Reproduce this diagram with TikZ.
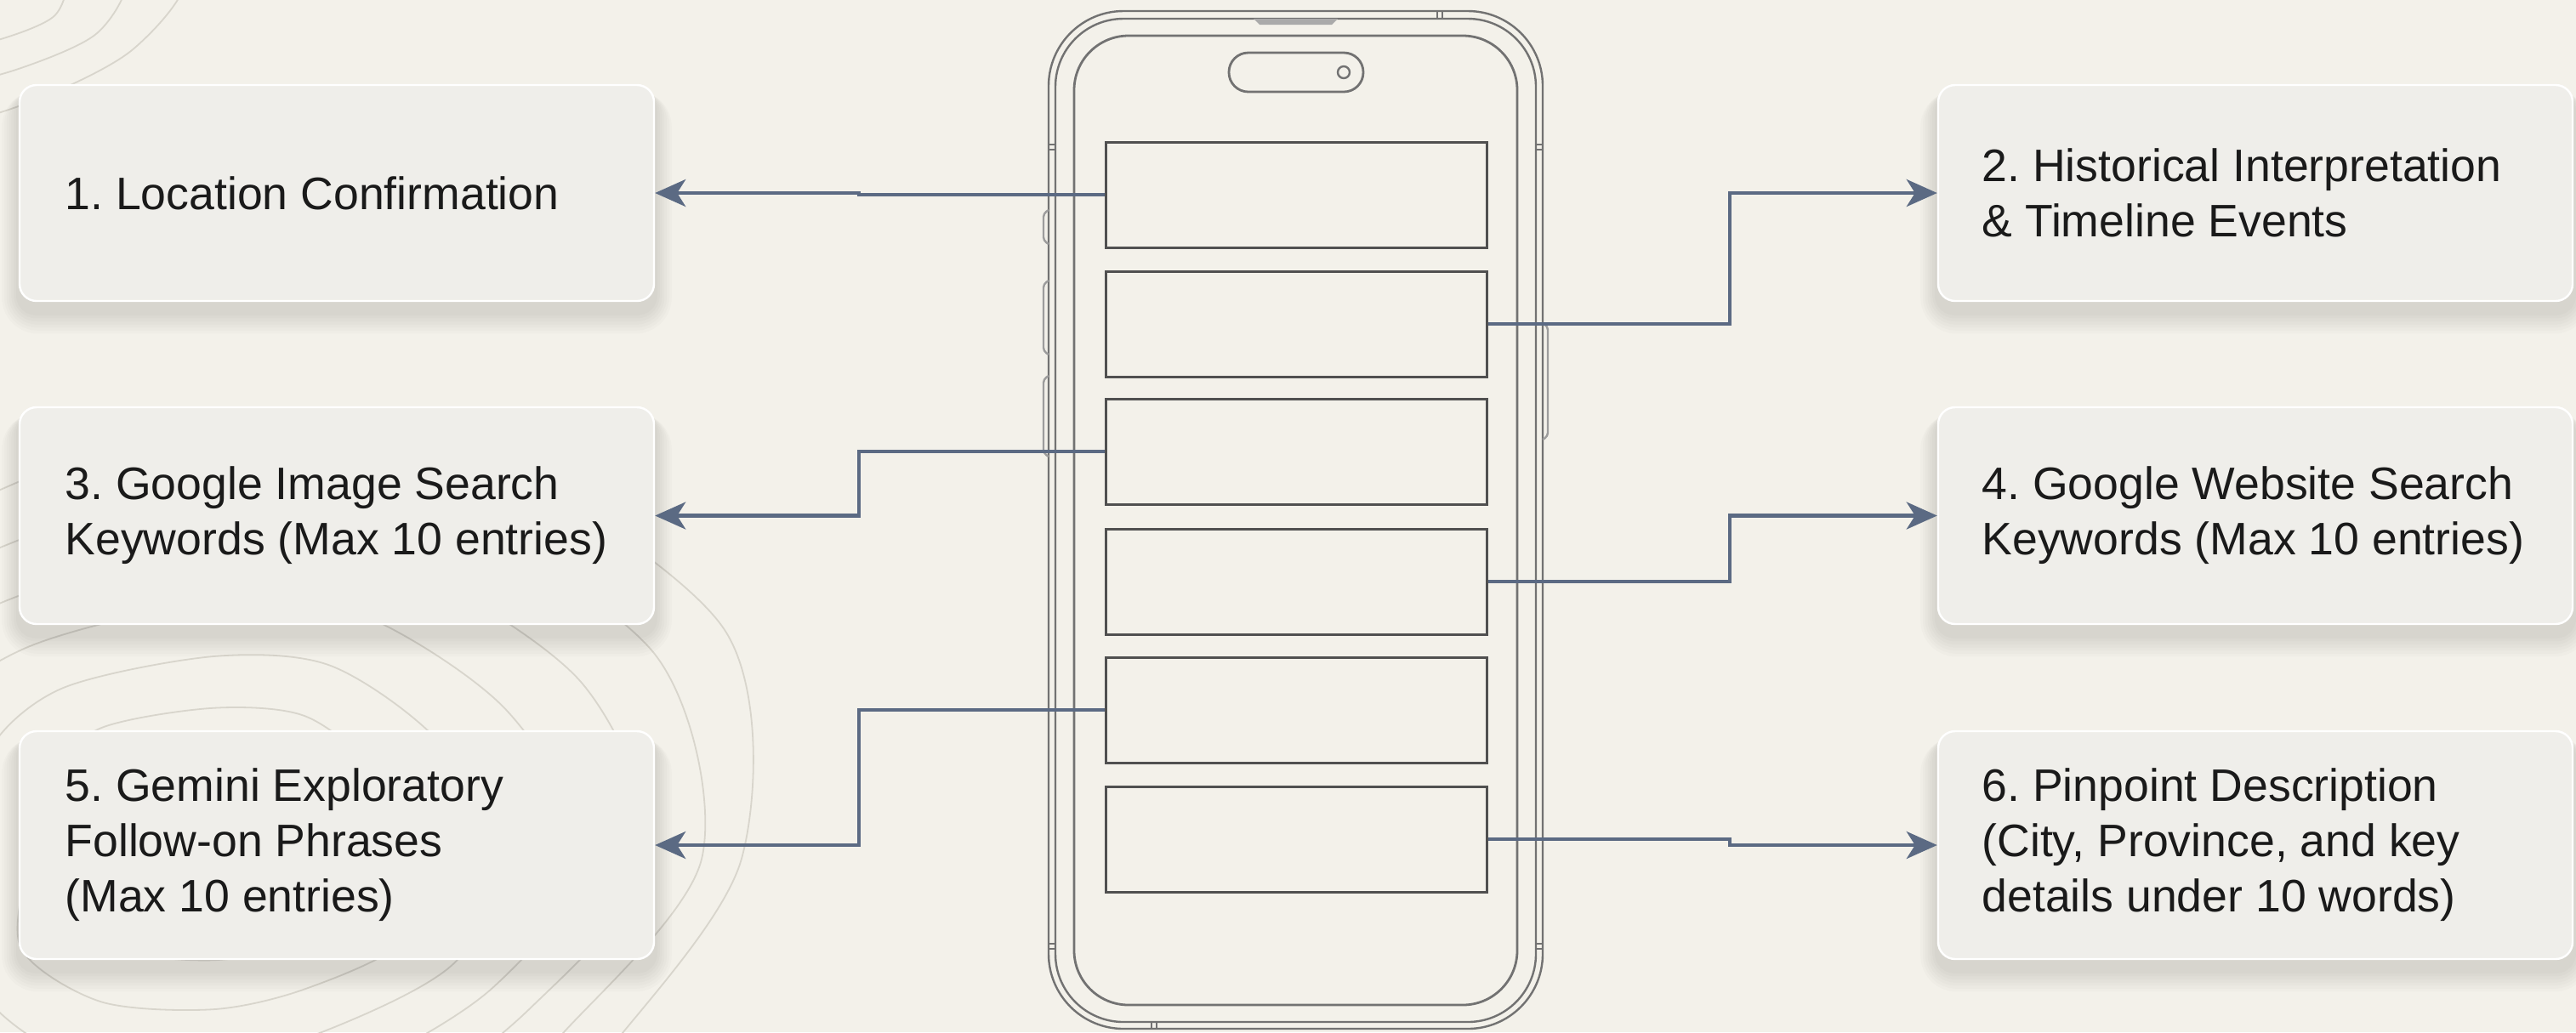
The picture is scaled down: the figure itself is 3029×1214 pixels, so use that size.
\documentclass[tikz,border=0pt]{standalone}
\usepackage{fontspec}
\setmainfont{Liberation Sans}
\usetikzlibrary{arrows.meta}
\definecolor{bg}{HTML}{F3F1EA}
\definecolor{boxfill}{HTML}{EFEEEA}
\definecolor{connc}{HTML}{5B6A83}
\definecolor{phonec}{HTML}{727272}
\definecolor{scrc}{HTML}{505050}
\definecolor{topoc}{HTML}{D8D5CC}
\definecolor{textc}{HTML}{1A1A1A}
\pgfdeclarelayer{back}
\pgfsetlayers{back,main}
\frenchspacing
\begin{document}
\begin{tikzpicture}[x=0.25pt,y=-0.25pt,
  card/.style={draw=white, line width=0.6pt, fill=boxfill, rounded corners=5pt,
    minimum width=186.5pt, inner sep=0pt},
  txt/.style={anchor=west, align=left, inner sep=0pt, text=textc,
    font=\fontsize{13.4pt}{16.25pt}\selectfont},
  scr/.style={draw=scrc, line width=0.75pt, minimum width=112pt, minimum height=31pt, inner sep=0pt},
  phoneline/.style={draw=phonec, line width=0.6pt},
  link/.style={draw=connc, line width=1.1pt, -{Stealth[length=9pt,width=8pt,inset=2.5pt]}},
  topoline/.style={draw=topoc, line width=0.45pt}
]
\useasboundingbox (0,0) rectangle (3029,1214);
\begin{pgfonlayer}{back}
\fill[bg] (0,0) rectangle (3029,1214);
% background contour lines
\begin{scope}
  \clip (0,0) rectangle (950,1214);
  \foreach \k in {1,...,7} {
    \draw[topoline] plot[smooth cycle, variable=\t, domain=0:330, samples=12]
      ({250 + (90+75*\k)*cos(\t)*(1+0.13*sin(3*\t+25*\k))},
       {1010 + (70+62*\k)*sin(\t)*(1+0.10*cos(2*\t+15*\k))});
  }
  \foreach \k in {1,...,3} {
    \draw[topoline] plot[smooth cycle, variable=\t, domain=0:330, samples=12]
      ({-60 + (70+60*\k)*cos(\t)*(1+0.12*sin(3*\t+30*\k))},
       {-30 + (50+45*\k)*sin(\t)*(1+0.10*cos(2*\t+20*\k))});
  }
\end{scope}
\end{pgfonlayer}

% phone body
\draw[phoneline, rounded corners=22pt] (1233,13) rectangle (1814,1210);
\draw[phoneline, rounded corners=20pt] (1241,22) rectangle (1806,1202);
\draw[phoneline, line width=0.7pt, rounded corners=16pt] (1263,42) rectangle (1784,1182);
% dynamic island
\draw[phoneline, line width=0.7pt, rounded corners=5.7pt] (1445,62) rectangle (1603,108);
\draw[phoneline] (1580,85) circle[radius=7];
% speaker slot
\fill[phonec!60] (1474,22) -- (1573,22) -- (1566,29) -- (1481,29) -- cycle;
% side buttons
\foreach \a/\b in {247/287, 330/417, 442/537} {
  \draw[phoneline, draw=phonec!70, rounded corners=1pt] (1233,\a) -- (1227,\a+4) -- (1227,\b-4) -- (1233,\b);
}
\draw[phoneline, draw=phonec!70, rounded corners=1pt] (1814,380) -- (1820,384) -- (1820,513) -- (1814,517);
% antenna bands
\foreach \y in {170,1110} {
  \draw[phoneline, line width=0.4pt] (1233,\y) -- (1241,\y) (1233,\y+6) -- (1241,\y+6);
  \draw[phoneline, line width=0.4pt] (1806,\y) -- (1814,\y) (1806,\y+6) -- (1814,\y+6);
}
\draw[phoneline, line width=0.4pt] (1690,13) -- (1690,22) (1696,13) -- (1696,22);
\draw[phoneline, line width=0.4pt] (1354,1202) -- (1354,1210) (1360,1202) -- (1360,1210);

% screen rows
\node[scr] (r1) at (1524,229) {};
\node[scr] (r2) at (1524,381) {};
\node[scr] (r3) at (1524,531) {};
\node[scr] (r4) at (1524,684) {};
\node[scr] (r5) at (1524,835) {};
\node[scr] (r6) at (1524,987) {};

% cards
\node[card, minimum height=63.5pt] (b1) at (396,227) {};
\node[card, minimum height=63.75pt] (b3) at (396,606.5) {};
\node[card, minimum height=67pt] (b5) at (396,994) {};
\node[card, minimum height=63.5pt] (b2) at (2652,227) {};
\node[card, minimum height=63.75pt] (b4) at (2652,606.5) {};
\node[card, minimum height=67pt] (b6) at (2652,994) {};

% soft shadows below the cards
\begin{pgfonlayer}{back}
\foreach \n in {b1,b2,b3,b4,b5,b6} {
  \foreach \i in {1,...,7} {
    \fill[black, opacity=0.014, rounded corners=5pt+\i*0.8pt]
      ([xshift=-\i*0.7pt, yshift=-2pt]\n.north west) rectangle
      ([xshift=\i*0.7pt, yshift=-3pt-\i*0.9pt]\n.south east);
  }
}
\end{pgfonlayer}

\node[txt] (t1) at ([xshift=13.5pt]b1.west) {1. Location Confirmation};
\node[txt] (t3) at ([xshift=13.5pt]b3.west) {3. Google Image Search\\Keywords (Max 10 entries)};
\node[txt] (t5) at ([xshift=13.5pt]b5.west) {5. Gemini Exploratory\\Follow-on Phrases\\(Max 10 entries)};
\node[txt] (t2) at ([xshift=13pt]b2.west) {2. Historical Interpretation\\\& Timeline Events};
\node[txt] (t4) at ([xshift=13pt]b4.west) {4. Google Website Search\\Keywords (Max 10 entries)};
\node[txt] (t6) at ([xshift=13pt]b6.west) {6. Pinpoint Description\\(City, Province, and key\\details under 10 words)};

% connectors
\coordinate (jl) at (1010,0);
\coordinate (jr) at (2034,0);
\draw[link] (r1.west) -- (r1.west -| jl) -- (jl |- b1.east) -- (b1.east);
\draw[link] (r3.west) -- (r3.west -| jl) -- (jl |- b3.east) -- (b3.east);
\draw[link] (r5.west) -- (r5.west -| jl) -- (jl |- b5.east) -- (b5.east);
\draw[link] (r2.east) -- (r2.east -| jr) -- (jr |- b2.west) -- (b2.west);
\draw[link] (r4.east) -- (r4.east -| jr) -- (jr |- b4.west) -- (b4.west);
\draw[link] (r6.east) -- (r6.east -| jr) -- (jr |- b6.west) -- (b6.west);
\end{tikzpicture}
\end{document}
